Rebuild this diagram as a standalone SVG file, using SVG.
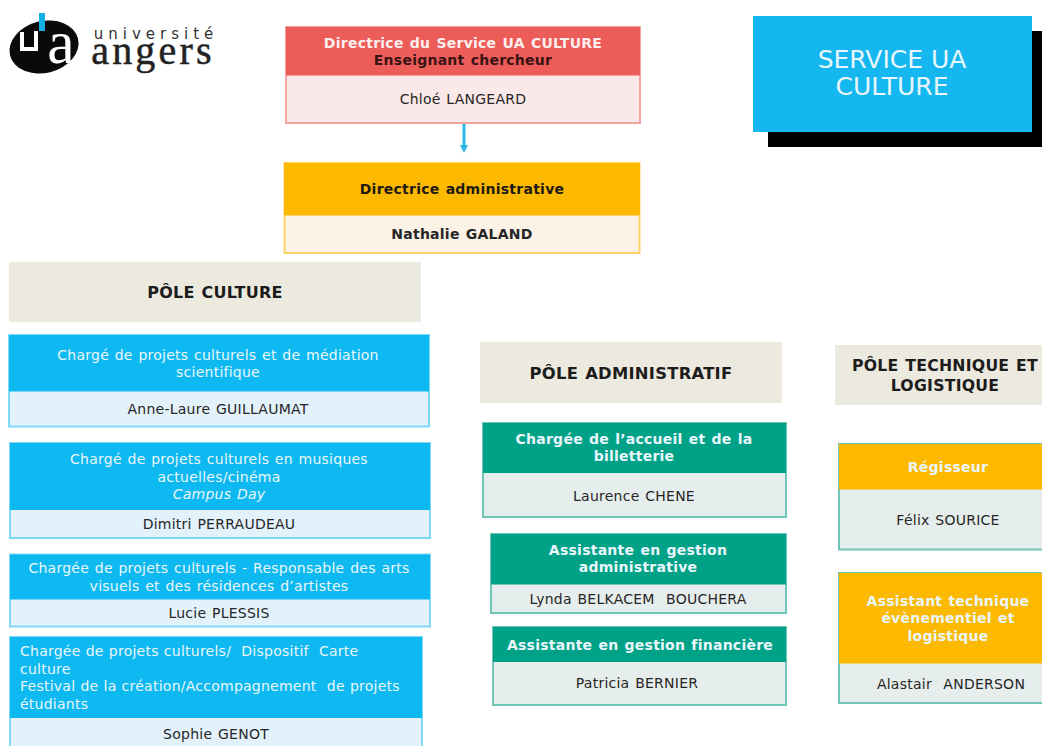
<svg xmlns="http://www.w3.org/2000/svg" width="1042" height="746" viewBox="0 0 1042 746">
<style>
text{font-family:"DejaVu Sans",Verdana,sans-serif;font-size:14px;letter-spacing:.25px;word-spacing:1px;white-space:pre;text-anchor:middle;fill:#262626}
.w{fill:#eaf6fb}
.l{text-anchor:start;word-spacing:.4px}
.b{font-weight:bold}
.d{fill:#1f1a12}
.p{font-size:16px;font-weight:bold;fill:#1c1c1c}
.c{stroke:#7fd8f6;stroke-width:2}
.g{stroke:#6fc6b6;stroke-width:2}
.bl{fill:#0db9f0}.blb{fill:#e3f1fb}
.gr{fill:#00a287}.grb{fill:#e6eded}
.or{fill:#fcb900}
.po{fill:#ece9df}
</style>
<defs>
<marker id="ah" markerWidth="9" markerHeight="8" refX="5" refY="4" orient="auto" markerUnits="userSpaceOnUse"><path d="M0 0L8 4L0 8Z" fill="#2db8e8"/></marker>
</defs>
<g id="logo">
<ellipse cx="44" cy="47" rx="35" ry="26" fill="#0a0a0a" transform="rotate(-14 44 47)"/>
<rect x="39" y="13" width="6" height="18" fill="#12b0e6"/>
<path d="M22 32v17h14V31" fill="none" stroke="#fff" stroke-width="4"/>
<text x="61" y="63" style="font-family:'Liberation Serif',serif;font-size:62px;letter-spacing:0;fill:#fff">a</text>
<text x="156" y="39" style="font-size:15px;letter-spacing:5px;fill:#333">université</text>
<text x="153" y="64" style="font-family:'Liberation Serif',serif;font-size:40px;letter-spacing:3.2px;stroke:#222;stroke-width:.5px;fill:#222">angers</text>
</g>
<g id="connectors">
<path d="M464 123V150" fill="none" stroke="#2db8e8" stroke-width="3" marker-end="url(#ah)"/>
</g>
<g id="service">
<rect x="768" y="31" width="274" height="116" fill="#000"/>
<rect x="753" y="16" width="279" height="116" fill="#14b7f0"/>
<text x="892" y="68" style="font-size:25px;letter-spacing:0;word-spacing:0;fill:#e8f6fc">SERVICE UA</text>
<text x="892" y="95" style="font-size:25px;letter-spacing:0;word-spacing:0;fill:#e8f6fc">CULTURE</text>
</g>
<g id="directrice">
<rect x="286" y="27" width="354" height="96" fill="#fbe9e9" stroke="#f5a3a0" stroke-width="2"/>
<rect x="286" y="27" width="354" height="48.500" fill="#ec5c58"/>
<text x="463" y="48" class="b" style="fill:#fdeeee">Directrice du Service UA CULTURE</text>
<text x="463" y="65" class="b d" style="fill:#3a1414">Enseignant chercheur</text>
<text x="463" y="104">Chloé LANGEARD</text>
</g>
<g id="admin">
<rect x="284.500" y="163" width="355" height="90" fill="#fdf2e6" stroke="#fdd36a" stroke-width="2"/>
<rect x="284" y="163" width="356" height="52.500" class="or"/>
<text x="462" y="194" class="b d">Directrice administrative</text>
<text x="462" y="239" class="b">Nathalie GALAND</text>
</g>
<g id="pole-culture">
<rect x="9" y="262" width="412" height="60" class="po"/>
<text x="215" y="298" class="p">PÔLE CULTURE</text>
</g>
<g id="guillaumat">
<rect x="9" y="335" width="420" height="91.500" class="blb c"/>
<rect x="9" y="335" width="420" height="56.500" class="bl"/>
<text x="218" y="360" class="w">Chargé de projets culturels et de médiation</text>
<text x="218" y="377" class="w">scientifique</text>
<text x="218" y="414">Anne-Laure GUILLAUMAT</text>
</g>
<g id="perraudeau">
<rect x="10" y="443" width="420" height="95" class="blb c"/>
<rect x="10" y="443" width="420" height="67" class="bl"/>
<text x="219" y="464" class="w">Chargé de projets culturels en musiques</text>
<text x="219" y="482" class="w">actuelles/cinéma</text>
<text x="219" y="499" class="w" font-style="italic">Campus Day</text>
<text x="219" y="529">Dimitri PERRAUDEAU</text>
</g>
<g id="plessis">
<rect x="10" y="554.500" width="420" height="72" class="blb c"/>
<rect x="10" y="554.500" width="420" height="45" class="bl"/>
<text x="219" y="573" class="w">Chargée de projets culturels - Responsable des arts</text>
<text x="219" y="591" class="w">visuels et des résidences d’artistes</text>
<text x="219" y="618">Lucie PLESSIS</text>
</g>
<g id="genot">
<rect x="10" y="637" width="412" height="120" class="blb c"/>
<rect x="10" y="637" width="412" height="81" class="bl"/>
<text x="20" y="656" class="w l">Chargée de projets culturels/  Dispositif  Carte</text>
<text x="20" y="674" class="w l">culture</text>
<text x="20" y="691" class="w l">Festival de la création/Accompagnement  de projets</text>
<text x="20" y="709" class="w l">étudiants</text>
<text x="216" y="739">Sophie GENOT</text>
</g>
<g id="pole-admin">
<rect x="480" y="342" width="302" height="61" class="po"/>
<text x="631" y="379" class="p" style="font-size:16.4px">PÔLE ADMINISTRATIF</text>
</g>
<g id="chene">
<rect x="483" y="423" width="303" height="94" class="grb g"/>
<rect x="483" y="423" width="303" height="50" class="gr"/>
<text x="634" y="444" class="b w">Chargée de l’accueil et de la</text>
<text x="634" y="461" class="b w">billetterie</text>
<text x="634" y="501">Laurence CHENE</text>
</g>
<g id="belkacem">
<rect x="491" y="534" width="295" height="79" class="grb g"/>
<rect x="491" y="534" width="295" height="50.500" class="gr"/>
<text x="638" y="555" class="b w">Assistante en gestion</text>
<text x="638" y="572" class="b w">administrative</text>
<text x="638" y="604">Lynda BELKACEM  BOUCHERA</text>
</g>
<g id="bernier">
<rect x="493" y="627" width="293" height="78" class="grb g"/>
<rect x="493" y="627" width="293" height="35" class="gr"/>
<text x="640" y="650" class="b w">Assistante en gestion financière</text>
<text x="637" y="688">Patricia BERNIER</text>
</g>
<g id="pole-tech">
<rect x="835" y="345" width="207" height="60" class="po"/>
<text x="945" y="371" class="p" style="font-size:15.7px">PÔLE TECHNIQUE ET</text>
<text x="945" y="391" class="p" style="font-size:15.7px">LOGISTIQUE</text>
</g>
<g id="sourice">
<rect x="839" y="444" width="210" height="105.500" class="grb g"/>
<rect x="839" y="444" width="210" height="45.500" class="or"/>
<text x="948" y="472" class="b w">Régisseur</text>
<text x="948" y="525">Félix SOURICE</text>
</g>
<g id="anderson">
<rect x="839" y="573" width="210" height="130" class="grb g"/>
<rect x="839" y="573" width="210" height="90.500" class="or"/>
<text x="948" y="606" class="b w">Assistant technique</text>
<text x="948" y="623" class="b w">évènementiel et</text>
<text x="948" y="641" class="b w">logistique</text>
<text x="951" y="689">Alastair  ANDERSON</text>
</g>
</svg>
